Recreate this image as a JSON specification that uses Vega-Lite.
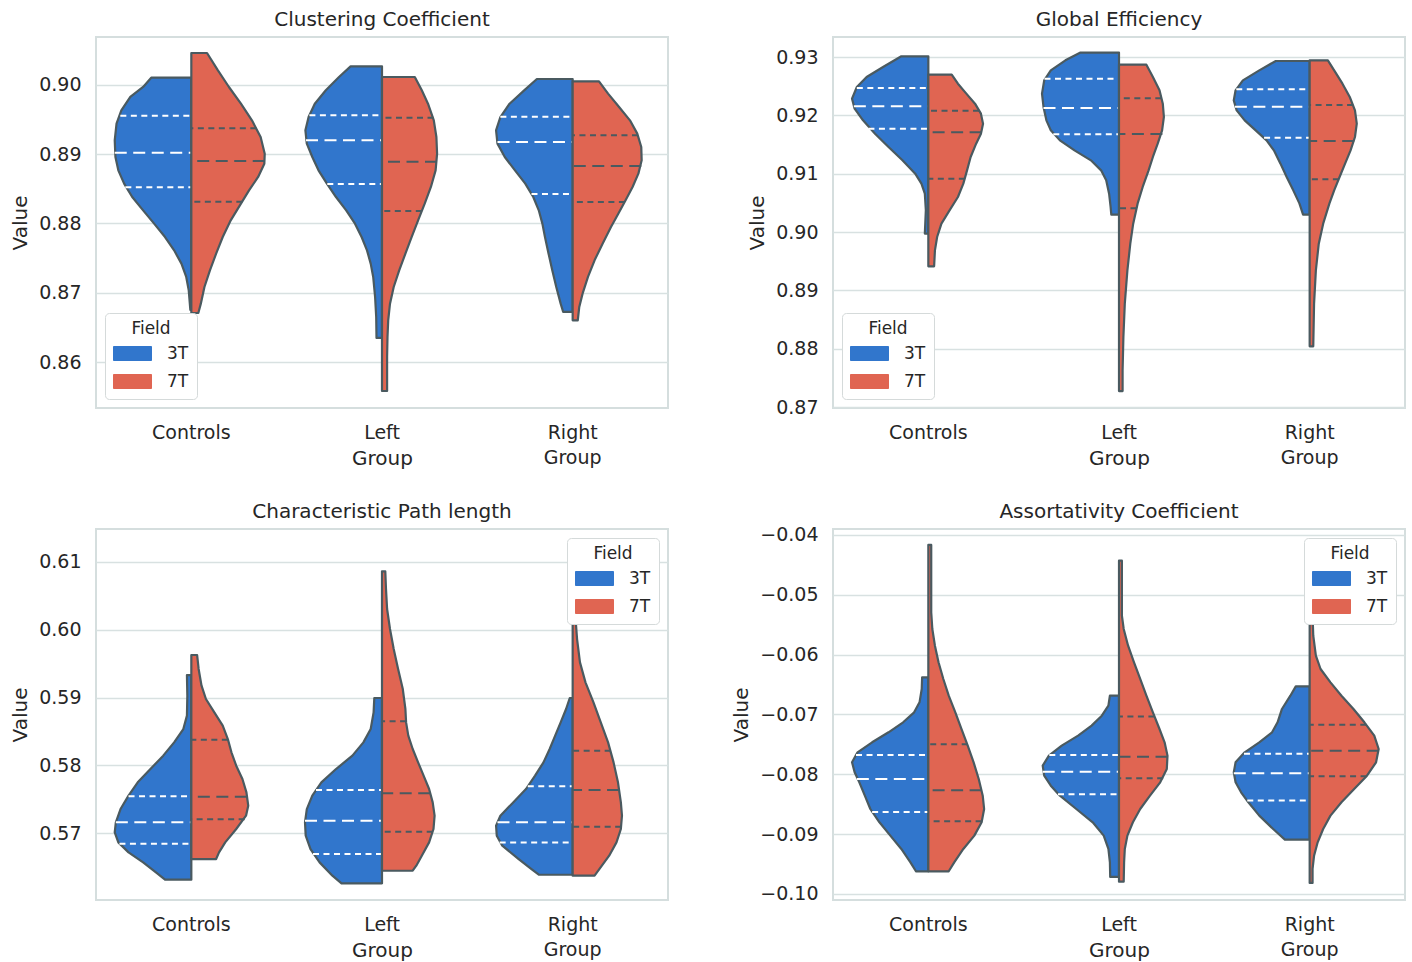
{
"$schema":"https://vega.github.io/schema/vega-lite/v6.json",
"padding":{"left":9,"top":9,"right":5,"bottom":5},
"background":"white",
"datasets":{
"cc":[
{"group":"Controls","field":"3T","kind":"edge","value":0.90101,"density":0.401},
{"group":"Controls","field":"3T","kind":"edge","value":0.89967,"density":0.482},
{"group":"Controls","field":"3T","kind":"edge","value":0.89823,"density":0.61},
{"group":"Controls","field":"3T","kind":"edge","value":0.8963,"density":0.70},
{"group":"Controls","field":"3T","kind":"edge","value":0.89438,"density":0.748},
{"group":"Controls","field":"3T","kind":"edge","value":0.89198,"density":0.766},
{"group":"Controls","field":"3T","kind":"edge","value":0.88957,"density":0.759},
{"group":"Controls","field":"3T","kind":"edge","value":0.88765,"density":0.73},
{"group":"Controls","field":"3T","kind":"edge","value":0.88573,"density":0.672},
{"group":"Controls","field":"3T","kind":"edge","value":0.8838,"density":0.591},
{"group":"Controls","field":"3T","kind":"edge","value":0.88188,"density":0.482},
{"group":"Controls","field":"3T","kind":"edge","value":0.87996,"density":0.372},
{"group":"Controls","field":"3T","kind":"edge","value":0.87803,"density":0.263},
{"group":"Controls","field":"3T","kind":"edge","value":0.87611,"density":0.172},
{"group":"Controls","field":"3T","kind":"edge","value":0.87419,"density":0.099},
{"group":"Controls","field":"3T","kind":"edge","value":0.87227,"density":0.051},
{"group":"Controls","field":"3T","kind":"edge","value":0.87034,"density":0.026},
{"group":"Controls","field":"3T","kind":"edge","value":0.86842,"density":0.015},
{"group":"Controls","field":"3T","kind":"edge","value":0.86751,"density":0.01},
{"group":"Controls","field":"3T","kind":"quartile","value":0.89553,"density":0.71},
{"group":"Controls","field":"3T","kind":"median","value":0.8902,"density":0.766},
{"group":"Controls","field":"3T","kind":"quartile","value":0.8852,"density":0.66},
{"group":"Controls","field":"7T","kind":"edge","value":0.90457,"density":0.157},
{"group":"Controls","field":"7T","kind":"edge","value":0.90207,"density":0.266},
{"group":"Controls","field":"7T","kind":"edge","value":0.89967,"density":0.376},
{"group":"Controls","field":"7T","kind":"edge","value":0.89726,"density":0.496},
{"group":"Controls","field":"7T","kind":"edge","value":0.89486,"density":0.606},
{"group":"Controls","field":"7T","kind":"edge","value":0.89246,"density":0.693},
{"group":"Controls","field":"7T","kind":"edge","value":0.89005,"density":0.734},
{"group":"Controls","field":"7T","kind":"edge","value":0.88861,"density":0.73},
{"group":"Controls","field":"7T","kind":"edge","value":0.88669,"density":0.668},
{"group":"Controls","field":"7T","kind":"edge","value":0.88476,"density":0.577},
{"group":"Controls","field":"7T","kind":"edge","value":0.88284,"density":0.496},
{"group":"Controls","field":"7T","kind":"edge","value":0.88044,"density":0.394},
{"group":"Controls","field":"7T","kind":"edge","value":0.87803,"density":0.314},
{"group":"Controls","field":"7T","kind":"edge","value":0.87563,"density":0.248},
{"group":"Controls","field":"7T","kind":"edge","value":0.87323,"density":0.186},
{"group":"Controls","field":"7T","kind":"edge","value":0.87082,"density":0.131},
{"group":"Controls","field":"7T","kind":"edge","value":0.86842,"density":0.095},
{"group":"Controls","field":"7T","kind":"edge","value":0.86707,"density":0.07},
{"group":"Controls","field":"7T","kind":"quartile","value":0.89371,"density":0.65},
{"group":"Controls","field":"7T","kind":"median","value":0.889,"density":0.734},
{"group":"Controls","field":"7T","kind":"quartile","value":0.88313,"density":0.51},
{"group":"Left","field":"3T","kind":"edge","value":0.90265,"density":0.314},
{"group":"Left","field":"3T","kind":"edge","value":0.90111,"density":0.43},
{"group":"Left","field":"3T","kind":"edge","value":0.89919,"density":0.562},
{"group":"Left","field":"3T","kind":"edge","value":0.89726,"density":0.672},
{"group":"Left","field":"3T","kind":"edge","value":0.89534,"density":0.734},
{"group":"Left","field":"3T","kind":"edge","value":0.89342,"density":0.766},
{"group":"Left","field":"3T","kind":"edge","value":0.8915,"density":0.752},
{"group":"Left","field":"3T","kind":"edge","value":0.88957,"density":0.697},
{"group":"Left","field":"3T","kind":"edge","value":0.88765,"density":0.635},
{"group":"Left","field":"3T","kind":"edge","value":0.88573,"density":0.551},
{"group":"Left","field":"3T","kind":"edge","value":0.8838,"density":0.46},
{"group":"Left","field":"3T","kind":"edge","value":0.88188,"density":0.358},
{"group":"Left","field":"3T","kind":"edge","value":0.87996,"density":0.27},
{"group":"Left","field":"3T","kind":"edge","value":0.87803,"density":0.204},
{"group":"Left","field":"3T","kind":"edge","value":0.87611,"density":0.15},
{"group":"Left","field":"3T","kind":"edge","value":0.87419,"density":0.113},
{"group":"Left","field":"3T","kind":"edge","value":0.87227,"density":0.088},
{"group":"Left","field":"3T","kind":"edge","value":0.86938,"density":0.069},
{"group":"Left","field":"3T","kind":"edge","value":0.8665,"density":0.058},
{"group":"Left","field":"3T","kind":"edge","value":0.86347,"density":0.055},
{"group":"Left","field":"3T","kind":"quartile","value":0.89558,"density":0.726},
{"group":"Left","field":"3T","kind":"median","value":0.89198,"density":0.76},
{"group":"Left","field":"3T","kind":"quartile","value":0.88568,"density":0.547},
{"group":"Left","field":"7T","kind":"edge","value":0.90111,"density":0.328},
{"group":"Left","field":"7T","kind":"edge","value":0.89919,"density":0.398},
{"group":"Left","field":"7T","kind":"edge","value":0.89726,"density":0.46},
{"group":"Left","field":"7T","kind":"edge","value":0.89486,"density":0.518},
{"group":"Left","field":"7T","kind":"edge","value":0.89246,"density":0.544},
{"group":"Left","field":"7T","kind":"edge","value":0.89005,"density":0.551},
{"group":"Left","field":"7T","kind":"edge","value":0.88765,"density":0.536},
{"group":"Left","field":"7T","kind":"edge","value":0.88525,"density":0.489},
{"group":"Left","field":"7T","kind":"edge","value":0.88284,"density":0.427},
{"group":"Left","field":"7T","kind":"edge","value":0.88044,"density":0.361},
{"group":"Left","field":"7T","kind":"edge","value":0.87803,"density":0.296},
{"group":"Left","field":"7T","kind":"edge","value":0.87563,"density":0.234},
{"group":"Left","field":"7T","kind":"edge","value":0.87323,"density":0.172},
{"group":"Left","field":"7T","kind":"edge","value":0.87082,"density":0.117},
{"group":"Left","field":"7T","kind":"edge","value":0.86842,"density":0.08},
{"group":"Left","field":"7T","kind":"edge","value":0.86601,"density":0.062},
{"group":"Left","field":"7T","kind":"edge","value":0.86361,"density":0.055},
{"group":"Left","field":"7T","kind":"edge","value":0.86073,"density":0.051},
{"group":"Left","field":"7T","kind":"edge","value":0.85784,"density":0.051},
{"group":"Left","field":"7T","kind":"edge","value":0.85582,"density":0.051},
{"group":"Left","field":"7T","kind":"quartile","value":0.89525,"density":0.515},
{"group":"Left","field":"7T","kind":"median","value":0.8889,"density":0.55},
{"group":"Left","field":"7T","kind":"quartile","value":0.88178,"density":0.398},
{"group":"Right","field":"3T","kind":"edge","value":0.90082,"density":0.358},
{"group":"Right","field":"3T","kind":"edge","value":0.89919,"density":0.485},
{"group":"Right","field":"3T","kind":"edge","value":0.89726,"density":0.631},
{"group":"Right","field":"3T","kind":"edge","value":0.89534,"density":0.723},
{"group":"Right","field":"3T","kind":"edge","value":0.89342,"density":0.766},
{"group":"Right","field":"3T","kind":"edge","value":0.8915,"density":0.752},
{"group":"Right","field":"3T","kind":"edge","value":0.88957,"density":0.679},
{"group":"Right","field":"3T","kind":"edge","value":0.88765,"density":0.577},
{"group":"Right","field":"3T","kind":"edge","value":0.88573,"density":0.474},
{"group":"Right","field":"3T","kind":"edge","value":0.8838,"density":0.394},
{"group":"Right","field":"3T","kind":"edge","value":0.88188,"density":0.339},
{"group":"Right","field":"3T","kind":"edge","value":0.87996,"density":0.303},
{"group":"Right","field":"3T","kind":"edge","value":0.87803,"density":0.277},
{"group":"Right","field":"3T","kind":"edge","value":0.87563,"density":0.241},
{"group":"Right","field":"3T","kind":"edge","value":0.87323,"density":0.204},
{"group":"Right","field":"3T","kind":"edge","value":0.87082,"density":0.164},
{"group":"Right","field":"3T","kind":"edge","value":0.86842,"density":0.12},
{"group":"Right","field":"3T","kind":"edge","value":0.86722,"density":0.095},
{"group":"Right","field":"3T","kind":"quartile","value":0.89539,"density":0.723},
{"group":"Right","field":"3T","kind":"median","value":0.89174,"density":0.752},
{"group":"Right","field":"3T","kind":"quartile","value":0.88424,"density":0.412},
{"group":"Right","field":"7T","kind":"edge","value":0.90049,"density":0.263},
{"group":"Right","field":"7T","kind":"edge","value":0.89871,"density":0.354},
{"group":"Right","field":"7T","kind":"edge","value":0.89678,"density":0.464},
{"group":"Right","field":"7T","kind":"edge","value":0.89486,"density":0.573},
{"group":"Right","field":"7T","kind":"edge","value":0.89294,"density":0.646},
{"group":"Right","field":"7T","kind":"edge","value":0.89101,"density":0.686},
{"group":"Right","field":"7T","kind":"edge","value":0.88909,"density":0.69},
{"group":"Right","field":"7T","kind":"edge","value":0.88717,"density":0.657},
{"group":"Right","field":"7T","kind":"edge","value":0.88525,"density":0.599},
{"group":"Right","field":"7T","kind":"edge","value":0.88332,"density":0.529},
{"group":"Right","field":"7T","kind":"edge","value":0.8814,"density":0.456},
{"group":"Right","field":"7T","kind":"edge","value":0.87948,"density":0.383},
{"group":"Right","field":"7T","kind":"edge","value":0.87707,"density":0.299},
{"group":"Right","field":"7T","kind":"edge","value":0.87467,"density":0.219},
{"group":"Right","field":"7T","kind":"edge","value":0.87227,"density":0.153},
{"group":"Right","field":"7T","kind":"edge","value":0.86986,"density":0.099},
{"group":"Right","field":"7T","kind":"edge","value":0.86794,"density":0.066},
{"group":"Right","field":"7T","kind":"edge","value":0.86602,"density":0.051},
{"group":"Right","field":"7T","kind":"quartile","value":0.8927,"density":0.653},
{"group":"Right","field":"7T","kind":"median","value":0.88827,"density":0.686},
{"group":"Right","field":"7T","kind":"quartile","value":0.88308,"density":0.522}
],
"ge":[
{"group":"Controls","field":"3T","kind":"edge","value":0.93012,"density":0.27},
{"group":"Controls","field":"3T","kind":"edge","value":0.92829,"density":0.453},
{"group":"Controls","field":"3T","kind":"edge","value":0.92657,"density":0.617},
{"group":"Controls","field":"3T","kind":"edge","value":0.92486,"density":0.715},
{"group":"Controls","field":"3T","kind":"edge","value":0.92286,"density":0.763},
{"group":"Controls","field":"3T","kind":"edge","value":0.92114,"density":0.737},
{"group":"Controls","field":"3T","kind":"edge","value":0.91914,"density":0.653},
{"group":"Controls","field":"3T","kind":"edge","value":0.91686,"density":0.533},
{"group":"Controls","field":"3T","kind":"edge","value":0.91457,"density":0.398},
{"group":"Controls","field":"3T","kind":"edge","value":0.91229,"density":0.259},
{"group":"Controls","field":"3T","kind":"edge","value":0.91,"density":0.131},
{"group":"Controls","field":"3T","kind":"edge","value":0.90829,"density":0.069},
{"group":"Controls","field":"3T","kind":"edge","value":0.90657,"density":0.035},
{"group":"Controls","field":"3T","kind":"edge","value":0.90372,"density":0.025},
{"group":"Controls","field":"3T","kind":"edge","value":0.89972,"density":0.035},
{"group":"Controls","field":"3T","kind":"quartile","value":0.92469,"density":0.715},
{"group":"Controls","field":"3T","kind":"median","value":0.92154,"density":0.745},
{"group":"Controls","field":"3T","kind":"quartile","value":0.91771,"density":0.599},
{"group":"Controls","field":"7T","kind":"edge","value":0.92697,"density":0.234},
{"group":"Controls","field":"7T","kind":"edge","value":0.92543,"density":0.296},
{"group":"Controls","field":"7T","kind":"edge","value":0.92372,"density":0.38},
{"group":"Controls","field":"7T","kind":"edge","value":0.922,"density":0.467},
{"group":"Controls","field":"7T","kind":"edge","value":0.92029,"density":0.526},
{"group":"Controls","field":"7T","kind":"edge","value":0.91857,"density":0.547},
{"group":"Controls","field":"7T","kind":"edge","value":0.91686,"density":0.526},
{"group":"Controls","field":"7T","kind":"edge","value":0.91514,"density":0.478},
{"group":"Controls","field":"7T","kind":"edge","value":0.91286,"density":0.423},
{"group":"Controls","field":"7T","kind":"edge","value":0.91057,"density":0.387},
{"group":"Controls","field":"7T","kind":"edge","value":0.90829,"density":0.35},
{"group":"Controls","field":"7T","kind":"edge","value":0.906,"density":0.296},
{"group":"Controls","field":"7T","kind":"edge","value":0.90372,"density":0.212},
{"group":"Controls","field":"7T","kind":"edge","value":0.90143,"density":0.131},
{"group":"Controls","field":"7T","kind":"edge","value":0.89914,"density":0.088},
{"group":"Controls","field":"7T","kind":"edge","value":0.89686,"density":0.066},
{"group":"Controls","field":"7T","kind":"edge","value":0.89412,"density":0.058},
{"group":"Controls","field":"7T","kind":"quartile","value":0.9208,"density":0.507},
{"group":"Controls","field":"7T","kind":"median","value":0.91709,"density":0.533},
{"group":"Controls","field":"7T","kind":"quartile","value":0.90914,"density":0.365},
{"group":"Left","field":"3T","kind":"edge","value":0.93074,"density":0.39},
{"group":"Left","field":"3T","kind":"edge","value":0.92943,"density":0.536},
{"group":"Left","field":"3T","kind":"edge","value":0.92771,"density":0.682},
{"group":"Left","field":"3T","kind":"edge","value":0.926,"density":0.748},
{"group":"Left","field":"3T","kind":"edge","value":0.92372,"density":0.77},
{"group":"Left","field":"3T","kind":"edge","value":0.92143,"density":0.755},
{"group":"Left","field":"3T","kind":"edge","value":0.91914,"density":0.726},
{"group":"Left","field":"3T","kind":"edge","value":0.91743,"density":0.682},
{"group":"Left","field":"3T","kind":"edge","value":0.91571,"density":0.591},
{"group":"Left","field":"3T","kind":"edge","value":0.914,"density":0.445},
{"group":"Left","field":"3T","kind":"edge","value":0.91229,"density":0.281},
{"group":"Left","field":"3T","kind":"edge","value":0.91057,"density":0.179},
{"group":"Left","field":"3T","kind":"edge","value":0.90886,"density":0.128},
{"group":"Left","field":"3T","kind":"edge","value":0.90657,"density":0.099},
{"group":"Left","field":"3T","kind":"edge","value":0.90429,"density":0.084},
{"group":"Left","field":"3T","kind":"edge","value":0.90297,"density":0.077},
{"group":"Left","field":"3T","kind":"quartile","value":0.92629,"density":0.745},
{"group":"Left","field":"3T","kind":"median","value":0.92126,"density":0.755},
{"group":"Left","field":"3T","kind":"quartile","value":0.91674,"density":0.657},
{"group":"Left","field":"7T","kind":"edge","value":0.92869,"density":0.274},
{"group":"Left","field":"7T","kind":"edge","value":0.92657,"density":0.339},
{"group":"Left","field":"7T","kind":"edge","value":0.92429,"density":0.405},
{"group":"Left","field":"7T","kind":"edge","value":0.922,"density":0.438},
{"group":"Left","field":"7T","kind":"edge","value":0.91972,"density":0.449},
{"group":"Left","field":"7T","kind":"edge","value":0.91743,"density":0.431},
{"group":"Left","field":"7T","kind":"edge","value":0.91514,"density":0.387},
{"group":"Left","field":"7T","kind":"edge","value":0.91286,"density":0.339},
{"group":"Left","field":"7T","kind":"edge","value":0.91057,"density":0.296},
{"group":"Left","field":"7T","kind":"edge","value":0.90772,"density":0.237},
{"group":"Left","field":"7T","kind":"edge","value":0.90486,"density":0.186},
{"group":"Left","field":"7T","kind":"edge","value":0.90143,"density":0.142},
{"group":"Left","field":"7T","kind":"edge","value":0.898,"density":0.113},
{"group":"Left","field":"7T","kind":"edge","value":0.89343,"density":0.084},
{"group":"Left","field":"7T","kind":"edge","value":0.88772,"density":0.058},
{"group":"Left","field":"7T","kind":"edge","value":0.882,"density":0.044},
{"group":"Left","field":"7T","kind":"edge","value":0.87629,"density":0.036},
{"group":"Left","field":"7T","kind":"edge","value":0.87274,"density":0.036},
{"group":"Left","field":"7T","kind":"quartile","value":0.92292,"density":0.423},
{"group":"Left","field":"7T","kind":"median","value":0.9168,"density":0.434},
{"group":"Left","field":"7T","kind":"quartile","value":0.90406,"density":0.175},
{"group":"Right","field":"3T","kind":"edge","value":0.92932,"density":0.339},
{"group":"Right","field":"3T","kind":"edge","value":0.92771,"density":0.504},
{"group":"Right","field":"3T","kind":"edge","value":0.926,"density":0.668},
{"group":"Right","field":"3T","kind":"edge","value":0.92429,"density":0.741},
{"group":"Right","field":"3T","kind":"edge","value":0.92257,"density":0.759},
{"group":"Right","field":"3T","kind":"edge","value":0.92086,"density":0.73},
{"group":"Right","field":"3T","kind":"edge","value":0.91914,"density":0.65},
{"group":"Right","field":"3T","kind":"edge","value":0.91743,"density":0.54},
{"group":"Right","field":"3T","kind":"edge","value":0.91571,"density":0.431},
{"group":"Right","field":"3T","kind":"edge","value":0.914,"density":0.358},
{"group":"Right","field":"3T","kind":"edge","value":0.91172,"density":0.292},
{"group":"Right","field":"3T","kind":"edge","value":0.90943,"density":0.23},
{"group":"Right","field":"3T","kind":"edge","value":0.90714,"density":0.164},
{"group":"Right","field":"3T","kind":"edge","value":0.90486,"density":0.102},
{"group":"Right","field":"3T","kind":"edge","value":0.90297,"density":0.066},
{"group":"Right","field":"3T","kind":"quartile","value":0.92446,"density":0.734},
{"group":"Right","field":"3T","kind":"median","value":0.92149,"density":0.748},
{"group":"Right","field":"3T","kind":"quartile","value":0.91617,"density":0.456},
{"group":"Right","field":"7T","kind":"edge","value":0.92943,"density":0.182},
{"group":"Right","field":"7T","kind":"edge","value":0.92771,"density":0.245},
{"group":"Right","field":"7T","kind":"edge","value":0.92543,"density":0.328},
{"group":"Right","field":"7T","kind":"edge","value":0.92314,"density":0.401},
{"group":"Right","field":"7T","kind":"edge","value":0.92086,"density":0.453},
{"group":"Right","field":"7T","kind":"edge","value":0.91857,"density":0.471},
{"group":"Right","field":"7T","kind":"edge","value":0.91629,"density":0.453},
{"group":"Right","field":"7T","kind":"edge","value":0.914,"density":0.409},
{"group":"Right","field":"7T","kind":"edge","value":0.91172,"density":0.354},
{"group":"Right","field":"7T","kind":"edge","value":0.90943,"density":0.299},
{"group":"Right","field":"7T","kind":"edge","value":0.90714,"density":0.245},
{"group":"Right","field":"7T","kind":"edge","value":0.90486,"density":0.197},
{"group":"Right","field":"7T","kind":"edge","value":0.90143,"density":0.135},
{"group":"Right","field":"7T","kind":"edge","value":0.898,"density":0.091},
{"group":"Right","field":"7T","kind":"edge","value":0.89343,"density":0.062},
{"group":"Right","field":"7T","kind":"edge","value":0.88772,"density":0.044},
{"group":"Right","field":"7T","kind":"edge","value":0.8804,"density":0.036},
{"group":"Right","field":"7T","kind":"quartile","value":0.92177,"density":0.434},
{"group":"Right","field":"7T","kind":"median","value":0.9156,"density":0.445},
{"group":"Right","field":"7T","kind":"quartile","value":0.90903,"density":0.292}
],
"cpl":[
{"group":"Controls","field":"3T","kind":"edge","value":0.59331,"density":0.044},
{"group":"Controls","field":"3T","kind":"edge","value":0.59027,"density":0.04},
{"group":"Controls","field":"3T","kind":"edge","value":0.58733,"density":0.044},
{"group":"Controls","field":"3T","kind":"edge","value":0.58536,"density":0.08},
{"group":"Controls","field":"3T","kind":"edge","value":0.5834,"density":0.172},
{"group":"Controls","field":"3T","kind":"edge","value":0.58144,"density":0.281},
{"group":"Controls","field":"3T","kind":"edge","value":0.57947,"density":0.409},
{"group":"Controls","field":"3T","kind":"edge","value":0.57751,"density":0.536},
{"group":"Controls","field":"3T","kind":"edge","value":0.57555,"density":0.628},
{"group":"Controls","field":"3T","kind":"edge","value":0.57358,"density":0.708},
{"group":"Controls","field":"3T","kind":"edge","value":0.57162,"density":0.755},
{"group":"Controls","field":"3T","kind":"edge","value":0.57015,"density":0.766},
{"group":"Controls","field":"3T","kind":"edge","value":0.56867,"density":0.73},
{"group":"Controls","field":"3T","kind":"edge","value":0.5672,"density":0.628},
{"group":"Controls","field":"3T","kind":"edge","value":0.56573,"density":0.482},
{"group":"Controls","field":"3T","kind":"edge","value":0.56426,"density":0.354},
{"group":"Controls","field":"3T","kind":"edge","value":0.56318,"density":0.263},
{"group":"Controls","field":"3T","kind":"quartile","value":0.57545,"density":0.628},
{"group":"Controls","field":"3T","kind":"median","value":0.57162,"density":0.755},
{"group":"Controls","field":"3T","kind":"quartile","value":0.56848,"density":0.719},
{"group":"Controls","field":"7T","kind":"edge","value":0.59626,"density":0.058},
{"group":"Controls","field":"7T","kind":"edge","value":0.5942,"density":0.073},
{"group":"Controls","field":"7T","kind":"edge","value":0.59174,"density":0.102},
{"group":"Controls","field":"7T","kind":"edge","value":0.58978,"density":0.146},
{"group":"Controls","field":"7T","kind":"edge","value":0.58782,"density":0.23},
{"group":"Controls","field":"7T","kind":"edge","value":0.58585,"density":0.314},
{"group":"Controls","field":"7T","kind":"edge","value":0.58389,"density":0.365},
{"group":"Controls","field":"7T","kind":"edge","value":0.58193,"density":0.401},
{"group":"Controls","field":"7T","kind":"edge","value":0.57996,"density":0.449},
{"group":"Controls","field":"7T","kind":"edge","value":0.578,"density":0.511},
{"group":"Controls","field":"7T","kind":"edge","value":0.57604,"density":0.551},
{"group":"Controls","field":"7T","kind":"edge","value":0.57407,"density":0.569},
{"group":"Controls","field":"7T","kind":"edge","value":0.5726,"density":0.547},
{"group":"Controls","field":"7T","kind":"edge","value":0.57064,"density":0.449},
{"group":"Controls","field":"7T","kind":"edge","value":0.56867,"density":0.339},
{"group":"Controls","field":"7T","kind":"edge","value":0.5672,"density":0.277},
{"group":"Controls","field":"7T","kind":"edge","value":0.56622,"density":0.248},
{"group":"Controls","field":"7T","kind":"quartile","value":0.58379,"density":0.365},
{"group":"Controls","field":"7T","kind":"median","value":0.5754,"density":0.555},
{"group":"Controls","field":"7T","kind":"quartile","value":0.57206,"density":0.533},
{"group":"Left","field":"3T","kind":"edge","value":0.58993,"density":0.077},
{"group":"Left","field":"3T","kind":"edge","value":0.58782,"density":0.084},
{"group":"Left","field":"3T","kind":"edge","value":0.58536,"density":0.113},
{"group":"Left","field":"3T","kind":"edge","value":0.5834,"density":0.186},
{"group":"Left","field":"3T","kind":"edge","value":0.58144,"density":0.296},
{"group":"Left","field":"3T","kind":"edge","value":0.57947,"density":0.46},
{"group":"Left","field":"3T","kind":"edge","value":0.57751,"density":0.606},
{"group":"Left","field":"3T","kind":"edge","value":0.57555,"density":0.697},
{"group":"Left","field":"3T","kind":"edge","value":0.57358,"density":0.752},
{"group":"Left","field":"3T","kind":"edge","value":0.57162,"density":0.77},
{"group":"Left","field":"3T","kind":"edge","value":0.56966,"density":0.763},
{"group":"Left","field":"3T","kind":"edge","value":0.56769,"density":0.715},
{"group":"Left","field":"3T","kind":"edge","value":0.56573,"density":0.624},
{"group":"Left","field":"3T","kind":"edge","value":0.56377,"density":0.496},
{"group":"Left","field":"3T","kind":"edge","value":0.56264,"density":0.405},
{"group":"Left","field":"3T","kind":"quartile","value":0.57638,"density":0.66},
{"group":"Left","field":"3T","kind":"median","value":0.57187,"density":0.77},
{"group":"Left","field":"3T","kind":"quartile","value":0.56696,"density":0.69},
{"group":"Left","field":"7T","kind":"edge","value":0.60858,"density":0.033},
{"group":"Left","field":"7T","kind":"edge","value":0.60597,"density":0.04},
{"group":"Left","field":"7T","kind":"edge","value":0.60303,"density":0.051},
{"group":"Left","field":"7T","kind":"edge","value":0.60009,"density":0.08},
{"group":"Left","field":"7T","kind":"edge","value":0.59714,"density":0.117},
{"group":"Left","field":"7T","kind":"edge","value":0.5942,"density":0.161},
{"group":"Left","field":"7T","kind":"edge","value":0.59125,"density":0.208},
{"group":"Left","field":"7T","kind":"edge","value":0.58831,"density":0.234},
{"group":"Left","field":"7T","kind":"edge","value":0.58634,"density":0.241},
{"group":"Left","field":"7T","kind":"edge","value":0.58438,"density":0.263},
{"group":"Left","field":"7T","kind":"edge","value":0.58242,"density":0.307},
{"group":"Left","field":"7T","kind":"edge","value":0.58045,"density":0.361},
{"group":"Left","field":"7T","kind":"edge","value":0.57849,"density":0.416},
{"group":"Left","field":"7T","kind":"edge","value":0.57653,"density":0.471},
{"group":"Left","field":"7T","kind":"edge","value":0.57456,"density":0.507},
{"group":"Left","field":"7T","kind":"edge","value":0.5726,"density":0.526},
{"group":"Left","field":"7T","kind":"edge","value":0.57064,"density":0.515},
{"group":"Left","field":"7T","kind":"edge","value":0.56867,"density":0.471},
{"group":"Left","field":"7T","kind":"edge","value":0.56671,"density":0.398},
{"group":"Left","field":"7T","kind":"edge","value":0.56524,"density":0.343},
{"group":"Left","field":"7T","kind":"edge","value":0.5645,"density":0.307},
{"group":"Left","field":"7T","kind":"quartile","value":0.58649,"density":0.241},
{"group":"Left","field":"7T","kind":"median","value":0.57589,"density":0.482},
{"group":"Left","field":"7T","kind":"quartile","value":0.57025,"density":0.507},
{"group":"Right","field":"3T","kind":"edge","value":0.58993,"density":0.029},
{"group":"Right","field":"3T","kind":"edge","value":0.58831,"density":0.066},
{"group":"Right","field":"3T","kind":"edge","value":0.58634,"density":0.12},
{"group":"Right","field":"3T","kind":"edge","value":0.58438,"density":0.175},
{"group":"Right","field":"3T","kind":"edge","value":0.58242,"density":0.23},
{"group":"Right","field":"3T","kind":"edge","value":0.58045,"density":0.292},
{"group":"Right","field":"3T","kind":"edge","value":0.57849,"density":0.376},
{"group":"Right","field":"3T","kind":"edge","value":0.57653,"density":0.467},
{"group":"Right","field":"3T","kind":"edge","value":0.57456,"density":0.595},
{"group":"Right","field":"3T","kind":"edge","value":0.5726,"density":0.723},
{"group":"Right","field":"3T","kind":"edge","value":0.57113,"density":0.766},
{"group":"Right","field":"3T","kind":"edge","value":0.56966,"density":0.759},
{"group":"Right","field":"3T","kind":"edge","value":0.56818,"density":0.704},
{"group":"Right","field":"3T","kind":"edge","value":0.56622,"density":0.54},
{"group":"Right","field":"3T","kind":"edge","value":0.56475,"density":0.412},
{"group":"Right","field":"3T","kind":"edge","value":0.56391,"density":0.339},
{"group":"Right","field":"3T","kind":"quartile","value":0.57692,"density":0.449},
{"group":"Right","field":"3T","kind":"median","value":0.57162,"density":0.752},
{"group":"Right","field":"3T","kind":"quartile","value":0.56867,"density":0.73},
{"group":"Right","field":"7T","kind":"edge","value":0.60156,"density":0.029},
{"group":"Right","field":"7T","kind":"edge","value":0.59861,"density":0.044},
{"group":"Right","field":"7T","kind":"edge","value":0.59518,"density":0.073},
{"group":"Right","field":"7T","kind":"edge","value":0.59223,"density":0.128},
{"group":"Right","field":"7T","kind":"edge","value":0.58929,"density":0.208},
{"group":"Right","field":"7T","kind":"edge","value":0.58634,"density":0.281},
{"group":"Right","field":"7T","kind":"edge","value":0.5834,"density":0.354},
{"group":"Right","field":"7T","kind":"edge","value":0.58045,"density":0.409},
{"group":"Right","field":"7T","kind":"edge","value":0.57751,"density":0.453},
{"group":"Right","field":"7T","kind":"edge","value":0.57456,"density":0.482},
{"group":"Right","field":"7T","kind":"edge","value":0.5726,"density":0.493},
{"group":"Right","field":"7T","kind":"edge","value":0.57064,"density":0.482},
{"group":"Right","field":"7T","kind":"edge","value":0.56867,"density":0.438},
{"group":"Right","field":"7T","kind":"edge","value":0.56671,"density":0.365},
{"group":"Right","field":"7T","kind":"edge","value":0.56524,"density":0.292},
{"group":"Right","field":"7T","kind":"edge","value":0.56377,"density":0.219},
{"group":"Right","field":"7T","kind":"quartile","value":0.58217,"density":0.38},
{"group":"Right","field":"7T","kind":"median","value":0.57638,"density":0.464},
{"group":"Right","field":"7T","kind":"quartile","value":0.57098,"density":0.485}
],
"ac":[
{"group":"Controls","field":"3T","kind":"edge","value":-0.06379,"density":0.062},
{"group":"Controls","field":"3T","kind":"edge","value":-0.06574,"density":0.066},
{"group":"Controls","field":"3T","kind":"edge","value":-0.06797,"density":0.088},
{"group":"Controls","field":"3T","kind":"edge","value":-0.06964,"density":0.142},
{"group":"Controls","field":"3T","kind":"edge","value":-0.07131,"density":0.252},
{"group":"Controls","field":"3T","kind":"edge","value":-0.07298,"density":0.398},
{"group":"Controls","field":"3T","kind":"edge","value":-0.07465,"density":0.562},
{"group":"Controls","field":"3T","kind":"edge","value":-0.07633,"density":0.708},
{"group":"Controls","field":"3T","kind":"edge","value":-0.078,"density":0.763},
{"group":"Controls","field":"3T","kind":"edge","value":-0.07967,"density":0.737},
{"group":"Controls","field":"3T","kind":"edge","value":-0.08134,"density":0.69},
{"group":"Controls","field":"3T","kind":"edge","value":-0.08357,"density":0.635},
{"group":"Controls","field":"3T","kind":"edge","value":-0.0858,"density":0.58},
{"group":"Controls","field":"3T","kind":"edge","value":-0.08802,"density":0.489},
{"group":"Controls","field":"3T","kind":"edge","value":-0.09025,"density":0.38},
{"group":"Controls","field":"3T","kind":"edge","value":-0.09248,"density":0.27},
{"group":"Controls","field":"3T","kind":"edge","value":-0.09471,"density":0.179},
{"group":"Controls","field":"3T","kind":"edge","value":-0.09621,"density":0.124},
{"group":"Controls","field":"3T","kind":"quartile","value":-0.07677,"density":0.723},
{"group":"Controls","field":"3T","kind":"median","value":-0.08078,"density":0.715},
{"group":"Controls","field":"3T","kind":"quartile","value":-0.0863,"density":0.562},
{"group":"Controls","field":"7T","kind":"edge","value":-0.04167,"density":0.029},
{"group":"Controls","field":"7T","kind":"edge","value":-0.04736,"density":0.029},
{"group":"Controls","field":"7T","kind":"edge","value":-0.05293,"density":0.029},
{"group":"Controls","field":"7T","kind":"edge","value":-0.05571,"density":0.04},
{"group":"Controls","field":"7T","kind":"edge","value":-0.0585,"density":0.066},
{"group":"Controls","field":"7T","kind":"edge","value":-0.06128,"density":0.102},
{"group":"Controls","field":"7T","kind":"edge","value":-0.06407,"density":0.15},
{"group":"Controls","field":"7T","kind":"edge","value":-0.06686,"density":0.204},
{"group":"Controls","field":"7T","kind":"edge","value":-0.06964,"density":0.27},
{"group":"Controls","field":"7T","kind":"edge","value":-0.07243,"density":0.332},
{"group":"Controls","field":"7T","kind":"edge","value":-0.07521,"density":0.394},
{"group":"Controls","field":"7T","kind":"edge","value":-0.078,"density":0.453},
{"group":"Controls","field":"7T","kind":"edge","value":-0.08078,"density":0.504},
{"group":"Controls","field":"7T","kind":"edge","value":-0.08357,"density":0.544},
{"group":"Controls","field":"7T","kind":"edge","value":-0.0858,"density":0.558},
{"group":"Controls","field":"7T","kind":"edge","value":-0.08802,"density":0.533},
{"group":"Controls","field":"7T","kind":"edge","value":-0.09025,"density":0.46},
{"group":"Controls","field":"7T","kind":"edge","value":-0.09248,"density":0.35},
{"group":"Controls","field":"7T","kind":"edge","value":-0.09471,"density":0.259},
{"group":"Controls","field":"7T","kind":"edge","value":-0.09621,"density":0.204},
{"group":"Controls","field":"7T","kind":"quartile","value":-0.07499,"density":0.394},
{"group":"Controls","field":"7T","kind":"median","value":-0.08268,"density":0.533},
{"group":"Controls","field":"7T","kind":"quartile","value":-0.08786,"density":0.533},
{"group":"Left","field":"3T","kind":"edge","value":-0.06686,"density":0.091},
{"group":"Left","field":"3T","kind":"edge","value":-0.06853,"density":0.106},
{"group":"Left","field":"3T","kind":"edge","value":-0.0702,"density":0.172},
{"group":"Left","field":"3T","kind":"edge","value":-0.07187,"density":0.274},
{"group":"Left","field":"3T","kind":"edge","value":-0.07354,"density":0.409},
{"group":"Left","field":"3T","kind":"edge","value":-0.07521,"density":0.573},
{"group":"Left","field":"3T","kind":"edge","value":-0.07688,"density":0.701},
{"group":"Left","field":"3T","kind":"edge","value":-0.07855,"density":0.763},
{"group":"Left","field":"3T","kind":"edge","value":-0.08023,"density":0.748},
{"group":"Left","field":"3T","kind":"edge","value":-0.0819,"density":0.682},
{"group":"Left","field":"3T","kind":"edge","value":-0.08357,"density":0.591},
{"group":"Left","field":"3T","kind":"edge","value":-0.0858,"density":0.427},
{"group":"Left","field":"3T","kind":"edge","value":-0.08802,"density":0.263},
{"group":"Left","field":"3T","kind":"edge","value":-0.09025,"density":0.153},
{"group":"Left","field":"3T","kind":"edge","value":-0.09248,"density":0.106},
{"group":"Left","field":"3T","kind":"edge","value":-0.09471,"density":0.091},
{"group":"Left","field":"3T","kind":"edge","value":-0.09716,"density":0.088},
{"group":"Left","field":"3T","kind":"quartile","value":-0.07677,"density":0.697},
{"group":"Left","field":"3T","kind":"median","value":-0.07956,"density":0.763},
{"group":"Left","field":"3T","kind":"quartile","value":-0.08335,"density":0.61},
{"group":"Left","field":"7T","kind":"edge","value":-0.04429,"density":0.029},
{"group":"Left","field":"7T","kind":"edge","value":-0.05014,"density":0.029},
{"group":"Left","field":"7T","kind":"edge","value":-0.05348,"density":0.029},
{"group":"Left","field":"7T","kind":"edge","value":-0.05571,"density":0.047},
{"group":"Left","field":"7T","kind":"edge","value":-0.0585,"density":0.091},
{"group":"Left","field":"7T","kind":"edge","value":-0.06128,"density":0.15},
{"group":"Left","field":"7T","kind":"edge","value":-0.06407,"density":0.212},
{"group":"Left","field":"7T","kind":"edge","value":-0.06686,"density":0.274},
{"group":"Left","field":"7T","kind":"edge","value":-0.06964,"density":0.339},
{"group":"Left","field":"7T","kind":"edge","value":-0.07243,"density":0.405},
{"group":"Left","field":"7T","kind":"edge","value":-0.07465,"density":0.456},
{"group":"Left","field":"7T","kind":"edge","value":-0.07688,"density":0.485},
{"group":"Left","field":"7T","kind":"edge","value":-0.07911,"density":0.478},
{"group":"Left","field":"7T","kind":"edge","value":-0.08134,"density":0.412},
{"group":"Left","field":"7T","kind":"edge","value":-0.08357,"density":0.31},
{"group":"Left","field":"7T","kind":"edge","value":-0.0858,"density":0.212},
{"group":"Left","field":"7T","kind":"edge","value":-0.08802,"density":0.139},
{"group":"Left","field":"7T","kind":"edge","value":-0.09025,"density":0.084},
{"group":"Left","field":"7T","kind":"edge","value":-0.09248,"density":0.058},
{"group":"Left","field":"7T","kind":"edge","value":-0.09471,"density":0.051},
{"group":"Left","field":"7T","kind":"edge","value":-0.09794,"density":0.047},
{"group":"Left","field":"7T","kind":"quartile","value":-0.07036,"density":0.354},
{"group":"Left","field":"7T","kind":"median","value":-0.07705,"density":0.485},
{"group":"Left","field":"7T","kind":"quartile","value":-0.08067,"density":0.442},
{"group":"Right","field":"3T","kind":"edge","value":-0.0653,"density":0.139},
{"group":"Right","field":"3T","kind":"edge","value":-0.06686,"density":0.193},
{"group":"Right","field":"3T","kind":"edge","value":-0.06908,"density":0.277},
{"group":"Right","field":"3T","kind":"edge","value":-0.07131,"density":0.321},
{"group":"Right","field":"3T","kind":"edge","value":-0.07298,"density":0.376},
{"group":"Right","field":"3T","kind":"edge","value":-0.07465,"density":0.504},
{"group":"Right","field":"3T","kind":"edge","value":-0.07633,"density":0.65},
{"group":"Right","field":"3T","kind":"edge","value":-0.078,"density":0.741},
{"group":"Right","field":"3T","kind":"edge","value":-0.07967,"density":0.759},
{"group":"Right","field":"3T","kind":"edge","value":-0.08134,"density":0.741},
{"group":"Right","field":"3T","kind":"edge","value":-0.08301,"density":0.686},
{"group":"Right","field":"3T","kind":"edge","value":-0.08468,"density":0.613},
{"group":"Right","field":"3T","kind":"edge","value":-0.08691,"density":0.504},
{"group":"Right","field":"3T","kind":"edge","value":-0.08914,"density":0.365},
{"group":"Right","field":"3T","kind":"edge","value":-0.09092,"density":0.248},
{"group":"Right","field":"3T","kind":"quartile","value":-0.07655,"density":0.657},
{"group":"Right","field":"3T","kind":"median","value":-0.07984,"density":0.759},
{"group":"Right","field":"3T","kind":"quartile","value":-0.0844,"density":0.624},
{"group":"Right","field":"7T","kind":"edge","value":-0.05348,"density":0.029},
{"group":"Right","field":"7T","kind":"edge","value":-0.05683,"density":0.036},
{"group":"Right","field":"7T","kind":"edge","value":-0.06017,"density":0.062},
{"group":"Right","field":"7T","kind":"edge","value":-0.0624,"density":0.109},
{"group":"Right","field":"7T","kind":"edge","value":-0.06463,"density":0.208},
{"group":"Right","field":"7T","kind":"edge","value":-0.06686,"density":0.318},
{"group":"Right","field":"7T","kind":"edge","value":-0.06908,"density":0.438},
{"group":"Right","field":"7T","kind":"edge","value":-0.07131,"density":0.547},
{"group":"Right","field":"7T","kind":"edge","value":-0.07354,"density":0.646},
{"group":"Right","field":"7T","kind":"edge","value":-0.07577,"density":0.69},
{"group":"Right","field":"7T","kind":"edge","value":-0.078,"density":0.664},
{"group":"Right","field":"7T","kind":"edge","value":-0.08023,"density":0.573},
{"group":"Right","field":"7T","kind":"edge","value":-0.08245,"density":0.445},
{"group":"Right","field":"7T","kind":"edge","value":-0.08468,"density":0.318},
{"group":"Right","field":"7T","kind":"edge","value":-0.08691,"density":0.208},
{"group":"Right","field":"7T","kind":"edge","value":-0.08914,"density":0.135},
{"group":"Right","field":"7T","kind":"edge","value":-0.09137,"density":0.08},
{"group":"Right","field":"7T","kind":"edge","value":-0.0936,"density":0.044},
{"group":"Right","field":"7T","kind":"edge","value":-0.09582,"density":0.029},
{"group":"Right","field":"7T","kind":"edge","value":-0.09816,"density":0.029},
{"group":"Right","field":"7T","kind":"quartile","value":-0.0717,"density":0.566},
{"group":"Right","field":"7T","kind":"median","value":-0.07605,"density":0.69},
{"group":"Right","field":"7T","kind":"quartile","value":-0.08034,"density":0.569}
]
},
"concat":[
{
"title":{"text":"Clustering Coefficient","offset":7},"width":572,"height":371,"data":{"name":"cc"},
"encoding":{
"y":{"field":"value","type":"quantitative","scale":{"domain":[0.85337,0.90688],"nice":false,"zero":false},"axis":{"values":[0.86,0.87,0.88,0.89,0.9],"format":".2f","title":"Value"}},
"color":{"field":"field","type":"nominal","title":"Field","scale":{"domain":["3T","7T"],"range":["#3176CC","#E06552"]},"legend":{"orient":"bottom-left"}}
},
"resolve":{"scale":{"x":"independent"},"axis":{"x":"independent"}},
"layer":[
{"mark":{"type":"point","opacity":0},"encoding":{"x":{"field":"group","type":"nominal","scale":{"type":"band","domain":["Controls","Left","Right"],"paddingInner":0,"paddingOuter":0},"axis":{"title":"Group","labelAngle":0,"grid":false,"labelPadding":15,"labelExpr":"datum.value === 'Right' ? ['Right', 'Group'] : datum.value","labelLineHeight":25,"titleY":56,"titleBaseline":"alphabetic"}}}},
{"transform":[{"filter":"datum.group==='Controls' && datum.field==='3T'"}],"encoding":{"x":{"field":"density","type":"quantitative","stack":null,"scale":{"domain":[-4.7667,0.9533],"reverse":true,"nice":false,"zero":false},"axis":null},"x2":{"datum":0}},"layer":[{"transform":[{"filter":"datum.kind==='edge'"}],"mark":{"type":"area","orient":"horizontal","stroke":"#4A5A60","strokeWidth":2.2,"strokeJoin":"round"}},{"transform":[{"filter":"datum.kind!=='edge'"}],"mark":{"type":"rule","strokeWidth":2},"encoding":{"color":{"value":"#ffffff"},"strokeDash":{"field":"kind","type":"nominal","scale":{"domain":["median","quartile"],"range":[[12,6.5],[6,4.5]]},"legend":null}}}]},
{"transform":[{"filter":"datum.group==='Controls' && datum.field==='7T'"}],"encoding":{"x":{"field":"density","type":"quantitative","stack":null,"scale":{"domain":[-0.9533,4.7667],"nice":false,"zero":false},"axis":null},"x2":{"datum":0}},"layer":[{"transform":[{"filter":"datum.kind==='edge'"}],"mark":{"type":"area","orient":"horizontal","stroke":"#4A5A60","strokeWidth":2.2,"strokeJoin":"round"}},{"transform":[{"filter":"datum.kind!=='edge'"}],"mark":{"type":"rule","strokeWidth":2},"encoding":{"color":{"value":"#4A5A60"},"strokeDash":{"field":"kind","type":"nominal","scale":{"domain":["median","quartile"],"range":[[12,6.5],[6,4.5]]},"legend":null}}}]},
{"transform":[{"filter":"datum.group==='Left' && datum.field==='3T'"}],"encoding":{"x":{"field":"density","type":"quantitative","stack":null,"scale":{"domain":[-2.86,2.86],"reverse":true,"nice":false,"zero":false},"axis":null},"x2":{"datum":0}},"layer":[{"transform":[{"filter":"datum.kind==='edge'"}],"mark":{"type":"area","orient":"horizontal","stroke":"#4A5A60","strokeWidth":2.2,"strokeJoin":"round"}},{"transform":[{"filter":"datum.kind!=='edge'"}],"mark":{"type":"rule","strokeWidth":2},"encoding":{"color":{"value":"#ffffff"},"strokeDash":{"field":"kind","type":"nominal","scale":{"domain":["median","quartile"],"range":[[12,6.5],[6,4.5]]},"legend":null}}}]},
{"transform":[{"filter":"datum.group==='Left' && datum.field==='7T'"}],"encoding":{"x":{"field":"density","type":"quantitative","stack":null,"scale":{"domain":[-2.86,2.86],"nice":false,"zero":false},"axis":null},"x2":{"datum":0}},"layer":[{"transform":[{"filter":"datum.kind==='edge'"}],"mark":{"type":"area","orient":"horizontal","stroke":"#4A5A60","strokeWidth":2.2,"strokeJoin":"round"}},{"transform":[{"filter":"datum.kind!=='edge'"}],"mark":{"type":"rule","strokeWidth":2},"encoding":{"color":{"value":"#4A5A60"},"strokeDash":{"field":"kind","type":"nominal","scale":{"domain":["median","quartile"],"range":[[12,6.5],[6,4.5]]},"legend":null}}}]},
{"transform":[{"filter":"datum.group==='Right' && datum.field==='3T'"}],"encoding":{"x":{"field":"density","type":"quantitative","stack":null,"scale":{"domain":[-0.9533,4.7667],"reverse":true,"nice":false,"zero":false},"axis":null},"x2":{"datum":0}},"layer":[{"transform":[{"filter":"datum.kind==='edge'"}],"mark":{"type":"area","orient":"horizontal","stroke":"#4A5A60","strokeWidth":2.2,"strokeJoin":"round"}},{"transform":[{"filter":"datum.kind!=='edge'"}],"mark":{"type":"rule","strokeWidth":2},"encoding":{"color":{"value":"#ffffff"},"strokeDash":{"field":"kind","type":"nominal","scale":{"domain":["median","quartile"],"range":[[12,6.5],[6,4.5]]},"legend":null}}}]},
{"transform":[{"filter":"datum.group==='Right' && datum.field==='7T'"}],"encoding":{"x":{"field":"density","type":"quantitative","stack":null,"scale":{"domain":[-4.7667,0.9533],"nice":false,"zero":false},"axis":null},"x2":{"datum":0}},"layer":[{"transform":[{"filter":"datum.kind==='edge'"}],"mark":{"type":"area","orient":"horizontal","stroke":"#4A5A60","strokeWidth":2.2,"strokeJoin":"round"}},{"transform":[{"filter":"datum.kind!=='edge'"}],"mark":{"type":"rule","strokeWidth":2},"encoding":{"color":{"value":"#4A5A60"},"strokeDash":{"field":"kind","type":"nominal","scale":{"domain":["median","quartile"],"range":[[12,6.5],[6,4.5]]},"legend":null}}}]}
]
},
{
"title":{"text":"Global Efficiency","offset":7},"width":572,"height":371,"data":{"name":"ge"},
"encoding":{
"y":{"field":"value","type":"quantitative","scale":{"domain":[0.86983,0.93343],"nice":false,"zero":false},"axis":{"values":[0.87,0.88,0.89,0.9,0.91,0.92,0.93],"format":".2f","title":"Value"}},
"color":{"field":"field","type":"nominal","title":"Field","scale":{"domain":["3T","7T"],"range":["#3176CC","#E06552"]},"legend":{"orient":"bottom-left"}}
},
"resolve":{"scale":{"x":"independent"},"axis":{"x":"independent"}},
"layer":[
{"mark":{"type":"point","opacity":0},"encoding":{"x":{"field":"group","type":"nominal","scale":{"type":"band","domain":["Controls","Left","Right"],"paddingInner":0,"paddingOuter":0},"axis":{"title":"Group","labelAngle":0,"grid":false,"labelPadding":15,"labelExpr":"datum.value === 'Right' ? ['Right', 'Group'] : datum.value","labelLineHeight":25,"titleY":56,"titleBaseline":"alphabetic"}}}},
{"transform":[{"filter":"datum.group==='Controls' && datum.field==='3T'"}],"encoding":{"x":{"field":"density","type":"quantitative","stack":null,"scale":{"domain":[-4.7667,0.9533],"reverse":true,"nice":false,"zero":false},"axis":null},"x2":{"datum":0}},"layer":[{"transform":[{"filter":"datum.kind==='edge'"}],"mark":{"type":"area","orient":"horizontal","stroke":"#4A5A60","strokeWidth":2.2,"strokeJoin":"round"}},{"transform":[{"filter":"datum.kind!=='edge'"}],"mark":{"type":"rule","strokeWidth":2},"encoding":{"color":{"value":"#ffffff"},"strokeDash":{"field":"kind","type":"nominal","scale":{"domain":["median","quartile"],"range":[[12,6.5],[6,4.5]]},"legend":null}}}]},
{"transform":[{"filter":"datum.group==='Controls' && datum.field==='7T'"}],"encoding":{"x":{"field":"density","type":"quantitative","stack":null,"scale":{"domain":[-0.9533,4.7667],"nice":false,"zero":false},"axis":null},"x2":{"datum":0}},"layer":[{"transform":[{"filter":"datum.kind==='edge'"}],"mark":{"type":"area","orient":"horizontal","stroke":"#4A5A60","strokeWidth":2.2,"strokeJoin":"round"}},{"transform":[{"filter":"datum.kind!=='edge'"}],"mark":{"type":"rule","strokeWidth":2},"encoding":{"color":{"value":"#4A5A60"},"strokeDash":{"field":"kind","type":"nominal","scale":{"domain":["median","quartile"],"range":[[12,6.5],[6,4.5]]},"legend":null}}}]},
{"transform":[{"filter":"datum.group==='Left' && datum.field==='3T'"}],"encoding":{"x":{"field":"density","type":"quantitative","stack":null,"scale":{"domain":[-2.86,2.86],"reverse":true,"nice":false,"zero":false},"axis":null},"x2":{"datum":0}},"layer":[{"transform":[{"filter":"datum.kind==='edge'"}],"mark":{"type":"area","orient":"horizontal","stroke":"#4A5A60","strokeWidth":2.2,"strokeJoin":"round"}},{"transform":[{"filter":"datum.kind!=='edge'"}],"mark":{"type":"rule","strokeWidth":2},"encoding":{"color":{"value":"#ffffff"},"strokeDash":{"field":"kind","type":"nominal","scale":{"domain":["median","quartile"],"range":[[12,6.5],[6,4.5]]},"legend":null}}}]},
{"transform":[{"filter":"datum.group==='Left' && datum.field==='7T'"}],"encoding":{"x":{"field":"density","type":"quantitative","stack":null,"scale":{"domain":[-2.86,2.86],"nice":false,"zero":false},"axis":null},"x2":{"datum":0}},"layer":[{"transform":[{"filter":"datum.kind==='edge'"}],"mark":{"type":"area","orient":"horizontal","stroke":"#4A5A60","strokeWidth":2.2,"strokeJoin":"round"}},{"transform":[{"filter":"datum.kind!=='edge'"}],"mark":{"type":"rule","strokeWidth":2},"encoding":{"color":{"value":"#4A5A60"},"strokeDash":{"field":"kind","type":"nominal","scale":{"domain":["median","quartile"],"range":[[12,6.5],[6,4.5]]},"legend":null}}}]},
{"transform":[{"filter":"datum.group==='Right' && datum.field==='3T'"}],"encoding":{"x":{"field":"density","type":"quantitative","stack":null,"scale":{"domain":[-0.9533,4.7667],"reverse":true,"nice":false,"zero":false},"axis":null},"x2":{"datum":0}},"layer":[{"transform":[{"filter":"datum.kind==='edge'"}],"mark":{"type":"area","orient":"horizontal","stroke":"#4A5A60","strokeWidth":2.2,"strokeJoin":"round"}},{"transform":[{"filter":"datum.kind!=='edge'"}],"mark":{"type":"rule","strokeWidth":2},"encoding":{"color":{"value":"#ffffff"},"strokeDash":{"field":"kind","type":"nominal","scale":{"domain":["median","quartile"],"range":[[12,6.5],[6,4.5]]},"legend":null}}}]},
{"transform":[{"filter":"datum.group==='Right' && datum.field==='7T'"}],"encoding":{"x":{"field":"density","type":"quantitative","stack":null,"scale":{"domain":[-4.7667,0.9533],"nice":false,"zero":false},"axis":null},"x2":{"datum":0}},"layer":[{"transform":[{"filter":"datum.kind==='edge'"}],"mark":{"type":"area","orient":"horizontal","stroke":"#4A5A60","strokeWidth":2.2,"strokeJoin":"round"}},{"transform":[{"filter":"datum.kind!=='edge'"}],"mark":{"type":"rule","strokeWidth":2},"encoding":{"color":{"value":"#4A5A60"},"strokeDash":{"field":"kind","type":"nominal","scale":{"domain":["median","quartile"],"range":[[12,6.5],[6,4.5]]},"legend":null}}}]}
]
},
{
"title":{"text":"Characteristic Path length","offset":7},"width":572,"height":371,"data":{"name":"cpl"},
"encoding":{
"y":{"field":"value","type":"quantitative","scale":{"domain":[0.56019,0.61481],"nice":false,"zero":false},"axis":{"values":[0.57,0.58,0.59,0.6,0.61],"format":".2f","title":"Value"}},
"color":{"field":"field","type":"nominal","title":"Field","scale":{"domain":["3T","7T"],"range":["#3176CC","#E06552"]},"legend":{"orient":"top-right"}}
},
"resolve":{"scale":{"x":"independent"},"axis":{"x":"independent"}},
"layer":[
{"mark":{"type":"point","opacity":0},"encoding":{"x":{"field":"group","type":"nominal","scale":{"type":"band","domain":["Controls","Left","Right"],"paddingInner":0,"paddingOuter":0},"axis":{"title":"Group","labelAngle":0,"grid":false,"labelPadding":15,"labelExpr":"datum.value === 'Right' ? ['Right', 'Group'] : datum.value","labelLineHeight":25,"titleY":56,"titleBaseline":"alphabetic"}}}},
{"transform":[{"filter":"datum.group==='Controls' && datum.field==='3T'"}],"encoding":{"x":{"field":"density","type":"quantitative","stack":null,"scale":{"domain":[-4.7667,0.9533],"reverse":true,"nice":false,"zero":false},"axis":null},"x2":{"datum":0}},"layer":[{"transform":[{"filter":"datum.kind==='edge'"}],"mark":{"type":"area","orient":"horizontal","stroke":"#4A5A60","strokeWidth":2.2,"strokeJoin":"round"}},{"transform":[{"filter":"datum.kind!=='edge'"}],"mark":{"type":"rule","strokeWidth":2},"encoding":{"color":{"value":"#ffffff"},"strokeDash":{"field":"kind","type":"nominal","scale":{"domain":["median","quartile"],"range":[[12,6.5],[6,4.5]]},"legend":null}}}]},
{"transform":[{"filter":"datum.group==='Controls' && datum.field==='7T'"}],"encoding":{"x":{"field":"density","type":"quantitative","stack":null,"scale":{"domain":[-0.9533,4.7667],"nice":false,"zero":false},"axis":null},"x2":{"datum":0}},"layer":[{"transform":[{"filter":"datum.kind==='edge'"}],"mark":{"type":"area","orient":"horizontal","stroke":"#4A5A60","strokeWidth":2.2,"strokeJoin":"round"}},{"transform":[{"filter":"datum.kind!=='edge'"}],"mark":{"type":"rule","strokeWidth":2},"encoding":{"color":{"value":"#4A5A60"},"strokeDash":{"field":"kind","type":"nominal","scale":{"domain":["median","quartile"],"range":[[12,6.5],[6,4.5]]},"legend":null}}}]},
{"transform":[{"filter":"datum.group==='Left' && datum.field==='3T'"}],"encoding":{"x":{"field":"density","type":"quantitative","stack":null,"scale":{"domain":[-2.86,2.86],"reverse":true,"nice":false,"zero":false},"axis":null},"x2":{"datum":0}},"layer":[{"transform":[{"filter":"datum.kind==='edge'"}],"mark":{"type":"area","orient":"horizontal","stroke":"#4A5A60","strokeWidth":2.2,"strokeJoin":"round"}},{"transform":[{"filter":"datum.kind!=='edge'"}],"mark":{"type":"rule","strokeWidth":2},"encoding":{"color":{"value":"#ffffff"},"strokeDash":{"field":"kind","type":"nominal","scale":{"domain":["median","quartile"],"range":[[12,6.5],[6,4.5]]},"legend":null}}}]},
{"transform":[{"filter":"datum.group==='Left' && datum.field==='7T'"}],"encoding":{"x":{"field":"density","type":"quantitative","stack":null,"scale":{"domain":[-2.86,2.86],"nice":false,"zero":false},"axis":null},"x2":{"datum":0}},"layer":[{"transform":[{"filter":"datum.kind==='edge'"}],"mark":{"type":"area","orient":"horizontal","stroke":"#4A5A60","strokeWidth":2.2,"strokeJoin":"round"}},{"transform":[{"filter":"datum.kind!=='edge'"}],"mark":{"type":"rule","strokeWidth":2},"encoding":{"color":{"value":"#4A5A60"},"strokeDash":{"field":"kind","type":"nominal","scale":{"domain":["median","quartile"],"range":[[12,6.5],[6,4.5]]},"legend":null}}}]},
{"transform":[{"filter":"datum.group==='Right' && datum.field==='3T'"}],"encoding":{"x":{"field":"density","type":"quantitative","stack":null,"scale":{"domain":[-0.9533,4.7667],"reverse":true,"nice":false,"zero":false},"axis":null},"x2":{"datum":0}},"layer":[{"transform":[{"filter":"datum.kind==='edge'"}],"mark":{"type":"area","orient":"horizontal","stroke":"#4A5A60","strokeWidth":2.2,"strokeJoin":"round"}},{"transform":[{"filter":"datum.kind!=='edge'"}],"mark":{"type":"rule","strokeWidth":2},"encoding":{"color":{"value":"#ffffff"},"strokeDash":{"field":"kind","type":"nominal","scale":{"domain":["median","quartile"],"range":[[12,6.5],[6,4.5]]},"legend":null}}}]},
{"transform":[{"filter":"datum.group==='Right' && datum.field==='7T'"}],"encoding":{"x":{"field":"density","type":"quantitative","stack":null,"scale":{"domain":[-4.7667,0.9533],"nice":false,"zero":false},"axis":null},"x2":{"datum":0}},"layer":[{"transform":[{"filter":"datum.kind==='edge'"}],"mark":{"type":"area","orient":"horizontal","stroke":"#4A5A60","strokeWidth":2.2,"strokeJoin":"round"}},{"transform":[{"filter":"datum.kind!=='edge'"}],"mark":{"type":"rule","strokeWidth":2},"encoding":{"color":{"value":"#4A5A60"},"strokeDash":{"field":"kind","type":"nominal","scale":{"domain":["median","quartile"],"range":[[12,6.5],[6,4.5]]},"legend":null}}}]}
]
},
{
"title":{"text":"Assortativity Coefficient","offset":4},"width":572,"height":371,"data":{"name":"ac"},
"encoding":{
"y":{"field":"value","type":"quantitative","scale":{"domain":[-0.10101,-0.039],"nice":false,"zero":false},"axis":{"values":[-0.1,-0.09,-0.08,-0.07,-0.06,-0.05,-0.04],"format":".2f","title":"Value"}},
"color":{"field":"field","type":"nominal","title":"Field","scale":{"domain":["3T","7T"],"range":["#3176CC","#E06552"]},"legend":{"orient":"top-right"}}
},
"resolve":{"scale":{"x":"independent"},"axis":{"x":"independent"}},
"layer":[
{"mark":{"type":"point","opacity":0},"encoding":{"x":{"field":"group","type":"nominal","scale":{"type":"band","domain":["Controls","Left","Right"],"paddingInner":0,"paddingOuter":0},"axis":{"title":"Group","labelAngle":0,"grid":false,"labelPadding":15,"labelExpr":"datum.value === 'Right' ? ['Right', 'Group'] : datum.value","labelLineHeight":25,"titleY":56,"titleBaseline":"alphabetic"}}}},
{"transform":[{"filter":"datum.group==='Controls' && datum.field==='3T'"}],"encoding":{"x":{"field":"density","type":"quantitative","stack":null,"scale":{"domain":[-4.7667,0.9533],"reverse":true,"nice":false,"zero":false},"axis":null},"x2":{"datum":0}},"layer":[{"transform":[{"filter":"datum.kind==='edge'"}],"mark":{"type":"area","orient":"horizontal","stroke":"#4A5A60","strokeWidth":2.2,"strokeJoin":"round"}},{"transform":[{"filter":"datum.kind!=='edge'"}],"mark":{"type":"rule","strokeWidth":2},"encoding":{"color":{"value":"#ffffff"},"strokeDash":{"field":"kind","type":"nominal","scale":{"domain":["median","quartile"],"range":[[12,6.5],[6,4.5]]},"legend":null}}}]},
{"transform":[{"filter":"datum.group==='Controls' && datum.field==='7T'"}],"encoding":{"x":{"field":"density","type":"quantitative","stack":null,"scale":{"domain":[-0.9533,4.7667],"nice":false,"zero":false},"axis":null},"x2":{"datum":0}},"layer":[{"transform":[{"filter":"datum.kind==='edge'"}],"mark":{"type":"area","orient":"horizontal","stroke":"#4A5A60","strokeWidth":2.2,"strokeJoin":"round"}},{"transform":[{"filter":"datum.kind!=='edge'"}],"mark":{"type":"rule","strokeWidth":2},"encoding":{"color":{"value":"#4A5A60"},"strokeDash":{"field":"kind","type":"nominal","scale":{"domain":["median","quartile"],"range":[[12,6.5],[6,4.5]]},"legend":null}}}]},
{"transform":[{"filter":"datum.group==='Left' && datum.field==='3T'"}],"encoding":{"x":{"field":"density","type":"quantitative","stack":null,"scale":{"domain":[-2.86,2.86],"reverse":true,"nice":false,"zero":false},"axis":null},"x2":{"datum":0}},"layer":[{"transform":[{"filter":"datum.kind==='edge'"}],"mark":{"type":"area","orient":"horizontal","stroke":"#4A5A60","strokeWidth":2.2,"strokeJoin":"round"}},{"transform":[{"filter":"datum.kind!=='edge'"}],"mark":{"type":"rule","strokeWidth":2},"encoding":{"color":{"value":"#ffffff"},"strokeDash":{"field":"kind","type":"nominal","scale":{"domain":["median","quartile"],"range":[[12,6.5],[6,4.5]]},"legend":null}}}]},
{"transform":[{"filter":"datum.group==='Left' && datum.field==='7T'"}],"encoding":{"x":{"field":"density","type":"quantitative","stack":null,"scale":{"domain":[-2.86,2.86],"nice":false,"zero":false},"axis":null},"x2":{"datum":0}},"layer":[{"transform":[{"filter":"datum.kind==='edge'"}],"mark":{"type":"area","orient":"horizontal","stroke":"#4A5A60","strokeWidth":2.2,"strokeJoin":"round"}},{"transform":[{"filter":"datum.kind!=='edge'"}],"mark":{"type":"rule","strokeWidth":2},"encoding":{"color":{"value":"#4A5A60"},"strokeDash":{"field":"kind","type":"nominal","scale":{"domain":["median","quartile"],"range":[[12,6.5],[6,4.5]]},"legend":null}}}]},
{"transform":[{"filter":"datum.group==='Right' && datum.field==='3T'"}],"encoding":{"x":{"field":"density","type":"quantitative","stack":null,"scale":{"domain":[-0.9533,4.7667],"reverse":true,"nice":false,"zero":false},"axis":null},"x2":{"datum":0}},"layer":[{"transform":[{"filter":"datum.kind==='edge'"}],"mark":{"type":"area","orient":"horizontal","stroke":"#4A5A60","strokeWidth":2.2,"strokeJoin":"round"}},{"transform":[{"filter":"datum.kind!=='edge'"}],"mark":{"type":"rule","strokeWidth":2},"encoding":{"color":{"value":"#ffffff"},"strokeDash":{"field":"kind","type":"nominal","scale":{"domain":["median","quartile"],"range":[[12,6.5],[6,4.5]]},"legend":null}}}]},
{"transform":[{"filter":"datum.group==='Right' && datum.field==='7T'"}],"encoding":{"x":{"field":"density","type":"quantitative","stack":null,"scale":{"domain":[-4.7667,0.9533],"nice":false,"zero":false},"axis":null},"x2":{"datum":0}},"layer":[{"transform":[{"filter":"datum.kind==='edge'"}],"mark":{"type":"area","orient":"horizontal","stroke":"#4A5A60","strokeWidth":2.2,"strokeJoin":"round"}},{"transform":[{"filter":"datum.kind!=='edge'"}],"mark":{"type":"rule","strokeWidth":2},"encoding":{"color":{"value":"#4A5A60"},"strokeDash":{"field":"kind","type":"nominal","scale":{"domain":["median","quartile"],"range":[[12,6.5],[6,4.5]]},"legend":null}}}]}
]
}
],
"columns":2,
"spacing":{"row":121,"column":165},
"bounds":"flush",
"resolve":{"scale":{"y":"independent","x":"independent"},"legend":{"color":"independent"}},
"config":{
"font":"DejaVu Sans",
"view":{"stroke":"#d5dede","strokeWidth":2},
"axis":{"labelFont":"DejaVu Sans","titleFont":"DejaVu Sans","labelFontSize":19,"titleFontSize":20,"labelColor":"#262626","titleColor":"#262626","titleFontWeight":"normal","ticks":false,"domain":false,"gridColor":"#d8e1e1","gridWidth":1.6},
"axisY":{"labelPadding":15,"titlePadding":8},
"legend":{"titleFont":"DejaVu Sans","labelFont":"DejaVu Sans","titleFontSize":17,"labelFontSize":17,"titleFontWeight":"normal","titleColor":"#262626","labelColor":"#262626","titleAnchor":"middle","fillColor":"white","strokeColor":"#d5dada","cornerRadius":4,"padding":8,"offset":9,"symbolType":"M-1,-0.7H2.8V0.7H-1Z","symbolSize":400,"symbolStrokeColor":"#4A5A60","symbolStrokeWidth":1,"symbolOpacity":1,"labelOffset":33,"rowPadding":8,"titlePadding":5},
"title":{"font":"DejaVu Sans","fontSize":20,"fontWeight":"normal","color":"#262626","baseline":"alphabetic","anchor":"middle"}
}
}
